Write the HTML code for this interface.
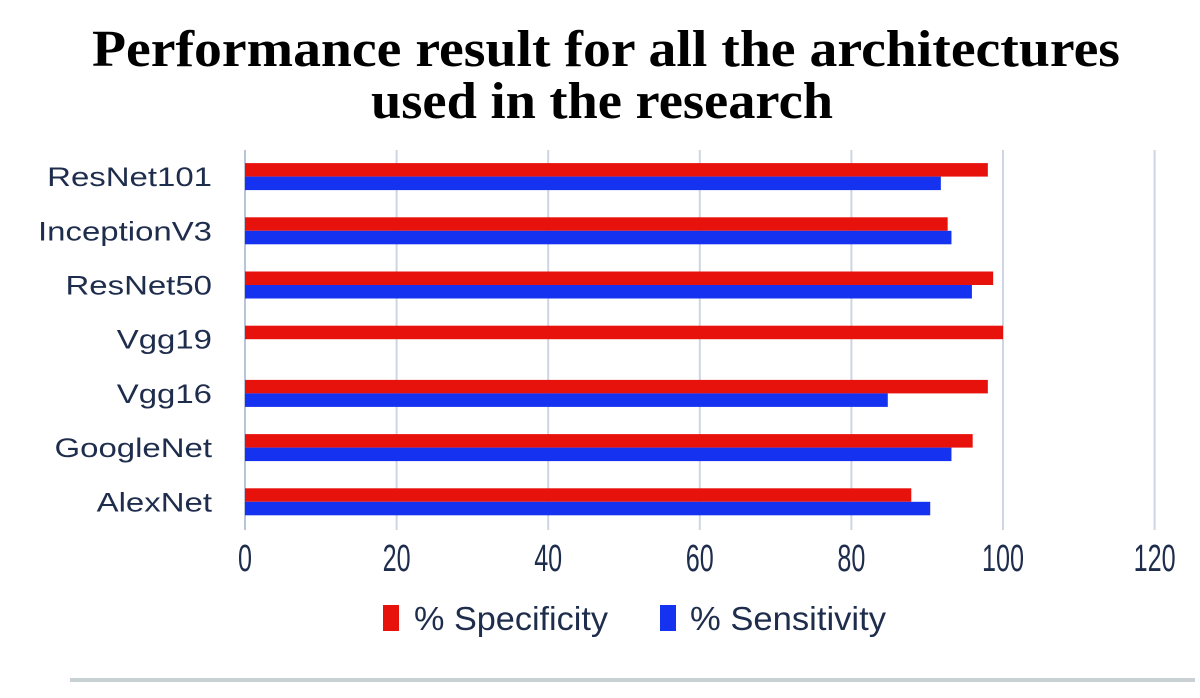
<!DOCTYPE html>
<html><head><meta charset="utf-8"><style>
body{margin:0;background:#fff;}
svg{display:block;}
</style></head><body>
<svg id="c" width="1200" height="698" xmlns="http://www.w3.org/2000/svg">
<text x="606" y="66" text-anchor="middle" textLength="1028" lengthAdjust="spacingAndGlyphs" font-family="Liberation Serif, serif" font-weight="bold" font-size="52" fill="#000">Performance result for all the architectures</text>
<text x="602" y="118" text-anchor="middle" textLength="462" lengthAdjust="spacingAndGlyphs" font-family="Liberation Serif, serif" font-weight="bold" font-size="52" fill="#000">used in the research</text>
<g id="grid"></g><g id="bars"></g><g id="ylab"></g><g id="xlab"></g>
<g>
<rect x="383" y="605" width="16" height="26" fill="#e8120c"/>
<text x="414" y="630" textLength="194" lengthAdjust="spacingAndGlyphs" font-family="Liberation Sans, sans-serif" font-size="33" fill="#1f2d4d">% Specificity</text>
<rect x="660" y="605" width="16" height="26" fill="#1432f0"/>
<text x="690" y="630" textLength="196" lengthAdjust="spacingAndGlyphs" font-family="Liberation Sans, sans-serif" font-size="33" fill="#1f2d4d">% Sensitivity</text>
</g>
<rect x="70" y="678" width="1125" height="4" fill="#c8d0d4"/>
</svg>
<script>
const categories=["ResNet101","InceptionV3","ResNet50","Vgg19","Vgg16","GoogleNet","AlexNet"];
const specificity=[98,92.7,98.7,100,98,96,87.9];
const sensitivity=[91.8,93.2,95.9,0,84.8,93.2,90.4];
const ticks=[0,20,40,60,80,100,120];
const NS="http://www.w3.org/2000/svg";
const x0=245,k=7.58,top0=150,band=54.2;
const X=v=>x0+v*k;
const Y=i=>top0+band*i;
function mk(t,a,p){const e=document.createElementNS(NS,t);for(const n in a)e.setAttribute(n,a[n]);document.getElementById(p).appendChild(e);return e;}
ticks.forEach(t=>{
 const l=mk('line',{x1:X(t),x2:X(t),y1:150,y2:530,stroke:t===0?'#b8c4d8':'#cdd6e2','stroke-width':2},'grid');
 
 
 const s=String(t);
 const tx=mk('text',{x:X(t),y:571,'text-anchor':'middle',textLength:s.length*14,lengthAdjust:'spacingAndGlyphs','font-family':'Liberation Sans, sans-serif','font-size':38,fill:'#1f2d4d'},'xlab');
 tx.textContent=s;
 
 
});
categories.forEach((c,i)=>{
 const yc=Y(i)+band/2;
 const r=mk('rect',{x:X(0),y:yc-14,width:X(specificity[i])-X(0),height:13.5,fill:'#e8120c'},'bars');
 
 
 const b=mk('rect',{x:X(0),y:yc-0.5,width:X(sensitivity[i])-X(0),height:13.5,fill:'#1432f0'},'bars');
 
 
 const t=mk('text',{x:212,y:yc+9,'text-anchor':'end','font-family':'Liberation Sans, sans-serif','font-size':27,fill:'#1f2d4d'},'ylab');
 t.textContent=c;
 
 
 const w=t.getComputedTextLength();
 t.setAttribute('textLength',w*1.22);
 t.setAttribute('lengthAdjust','spacingAndGlyphs');
});
</script>
</body></html>
